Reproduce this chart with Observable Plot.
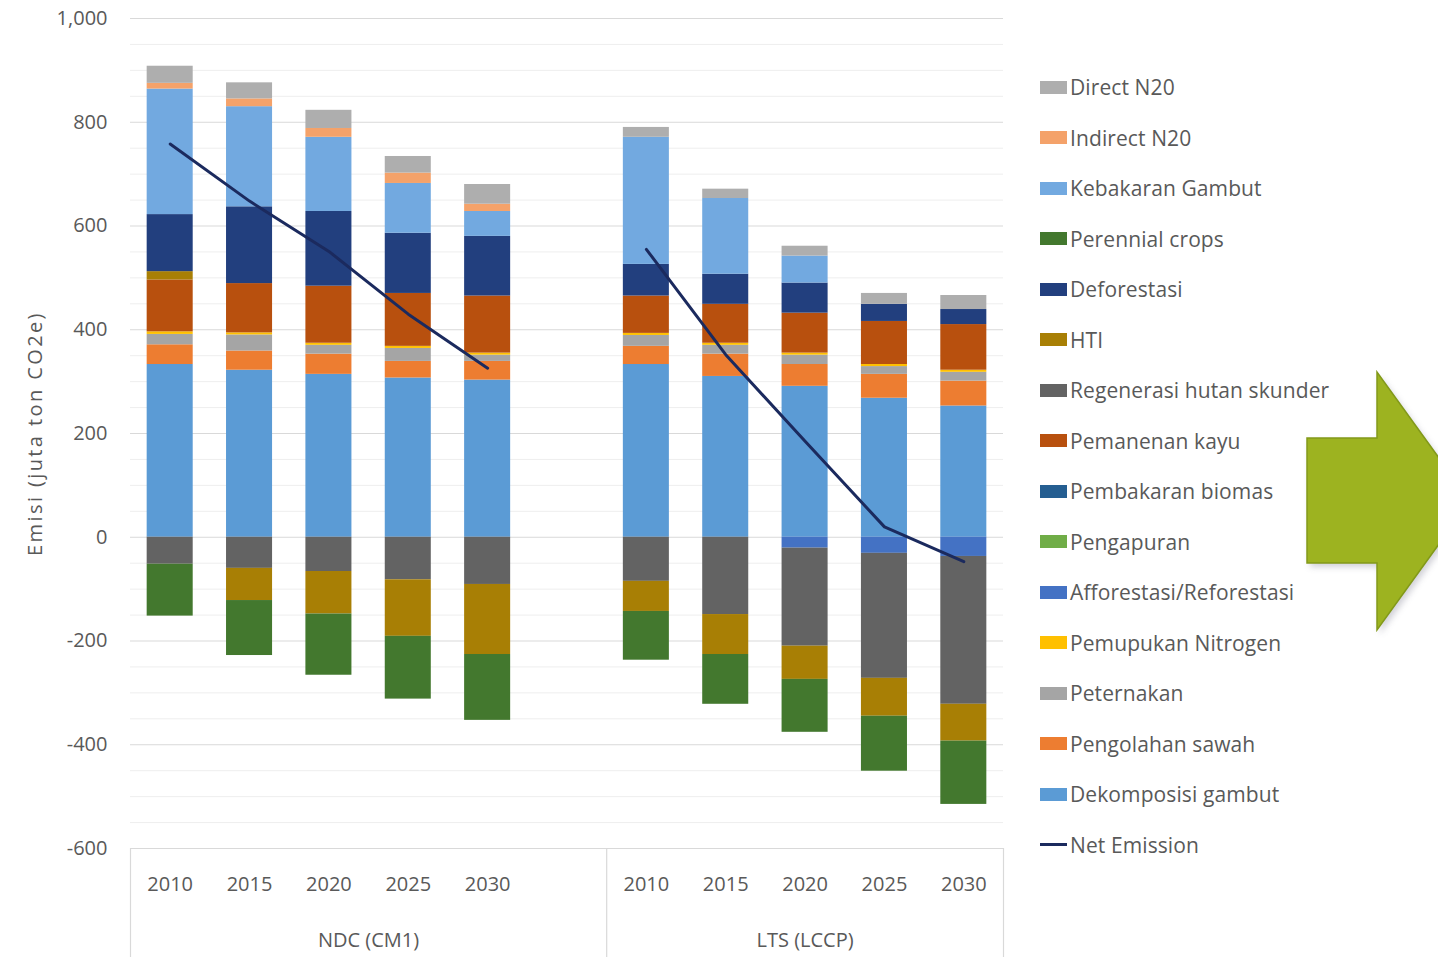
<!DOCTYPE html>
<html><head><meta charset="utf-8">
<script src="https://cdn.jsdelivr.net/npm/d3@7"></script>
<script src="https://cdn.jsdelivr.net/npm/@observablehq/plot@0.6"></script>
<style>
html,body{margin:0;padding:0;background:#fff;}
#wrap{position:relative;width:1438px;height:957px;overflow:hidden;font-family:"Open Sans",sans-serif;}
#chart{position:absolute;left:0;top:0;}
#legend{position:absolute;left:1040px;top:62px;}
.row{height:50.5px;display:flex;align-items:center;font-size:21px;color:#595959;white-space:nowrap;letter-spacing:0.1px;}
.sw{width:27px;height:13px;margin-right:3px;flex:none;}
.ln{width:27px;height:3px;margin-right:3px;flex:none;}
#arrow{position:absolute;left:1300px;top:365px;}
</style></head>
<body><div id="wrap"><div id="chart"></div><div id="legend"></div>
<svg id="arrow" width="180" height="280" viewBox="0 0 180 280">
<defs><filter id="sh" x="-20%" y="-20%" width="140%" height="140%"><feGaussianBlur stdDeviation="3"/></filter></defs>
<polygon points="7,73 77,73 77,7 170,136 77,265 77,198 7,198" transform="translate(3,4)" fill="#9a9aa8" opacity="0.45" filter="url(#sh)"/>
<polygon points="7,73 77,73 77,7 170,136 77,265 77,198 7,198" fill="#9db320" stroke="#82991a" stroke-width="1.5"/>
</svg>
</div>
<script>
// ---- categories ----
const scenarios = ["NDC (CM1)", "LTS (LCCP)"];
const years = ["2010", "2015", "2020", "2025", "2030"];
// ---- series (stack order, bottom to top) ----
const seriesNames = [
  "Dekomposisi gambut", "Pengolahan sawah", "Peternakan", "Pemupukan Nitrogen",
  "Afforestasi/Reforestasi", "Pengapuran", "Pembakaran biomas", "Pemanenan kayu",
  "Regenerasi hutan skunder", "HTI", "Deforestasi", "Perennial crops",
  "Kebakaran Gambut", "Indirect N20", "Direct N20"
];
const seriesColors = [
  "#5b9bd5", "#ed7d31", "#a5a5a5", "#ffc000",
  "#4472c4", "#70ad47", "#255e91", "#b8500e",
  "#636363", "#a87f05", "#223f7e", "#43782e",
  "#72a9e0", "#f4a26a", "#aeaeae"
];
// values: NDC 2010..2030, then LTS 2010..2030
const dekomposisiGambut   = [333, 322, 314, 307, 303, 333, 310, 291, 268, 253];
const pengolahanSawah     = [38, 37, 39, 32, 36, 35, 43, 42, 46, 48];
const peternakan          = [20, 31, 17, 25, 12, 21, 17, 18, 15, 17];
const pemupukanNitrogen   = [5, 4, 4, 4, 4, 4, 4, 4, 4, 4];
const afforestasi         = [0, 0, 0, 0, 0, 0, 0, -21, -31, -37];
const pengapuran          = [0, 0, 0, 0, 0, 0, 0, 0, 0, 0];
const pembakaranBiomas    = [0, 0, 0, 0, 0, 0, 0, 0, 0, 0];
const pemanenanKayu       = [100, 95, 110, 102, 110, 72, 75, 77, 83, 88];
const regenerasiHutan     = [-52, -60, -66, -82, -91, -85, -149, -189, -241, -285];
const hti                 = [16, -62, -82, -109, -135, -58, -77, -64, -73, -71];
const deforestasi         = [110, 148, 144, 116, 115, 61, 58, 58, 33, 29];
const perennialCrops      = [-100, -106, -118, -121, -127, -94, -96, -102, -106, -122];
const kebakaranGambut     = [242, 193, 143, 96, 48, 245, 146, 52, 0, 0];
const indirectN2O         = [11, 15, 17, 20, 14, 0, 0, 0, 0, 0];
const directN2O           = [33, 31, 35, 32, 38, 19, 18, 19, 21, 27];
const netEmission         = [758, 648, 551, 430, 326, 555, 352, 185, 20, -47];
// ---- axis ticks ----
const yMajorTicks = [-600, -400, -200, 0, 200, 400, 600, 800, 1000];
const yMinorTicks = [-550, -500, -450, -350, -300, -250, -150, -100, -50, 50, 100, 150, 250, 300, 350, 450, 500, 550, 650, 700, 750, 850, 900, 950];
const yTitle = "Emisi (juta ton CO2e)";
const legendLineName = "Net Emission";

const seriesValues = [dekomposisiGambut, pengolahanSawah, peternakan, pemupukanNitrogen,
  afforestasi, pengapuran, pembakaranBiomas, pemanenanKayu, regenerasiHutan, hti,
  deforestasi, perennialCrops, kebakaranGambut, indirectN2O, directN2O];

// category keys (with a blank category between the two scenarios)
const cats = [];
scenarios.forEach(s => years.forEach(y => cats.push({scenario: s, year: y, key: s + "|" + y})));
const keys = [...cats.slice(0, 5).map(c => c.key), "gap", ...cats.slice(5).map(c => c.key)];

const rows = [];
seriesNames.forEach((name, si) => {
  cats.forEach((c, i) => rows.push({key: c.key, series: name, value: seriesValues[si][i]}));
});
const netRows = cats.map((c, i) => ({key: c.key, scenario: c.scenario, value: netEmission[i]}));

const W = 1438, H = 957, mL = 130, mR = 435, mT = 18, mB = 109;
const step = (W - mL - mR) / keys.length;
const fmt = d => d.toLocaleString("en-US");

const chart = Plot.plot({
  width: W, height: H,
  marginLeft: mL, marginRight: mR, marginTop: mT, marginBottom: mB,
  style: {fontFamily: "Open Sans, sans-serif", fontSize: "20px", color: "#595959", background: "white"},
  x: {domain: keys, paddingInner: 0.42, paddingOuter: 0.21, align: 0.5, round: false, label: null},
  y: {domain: [-600, 1000], label: null},
  color: {domain: seriesNames, range: seriesColors},
  marks: [
    Plot.ruleY(yMinorTicks, {stroke: "#eeeeee", strokeWidth: 1}),
    Plot.ruleY(yMajorTicks, {stroke: "#d9d9d9", strokeWidth: 1.2}),
    Plot.barY(rows, {x: "key", y: "value", fill: "series"}),
    Plot.line(netRows, {x: "key", y: "value", z: "scenario", stroke: "#1b2a5e", strokeWidth: 3}),
    Plot.axisY({ticks: yMajorTicks, tickSize: 0, tickPadding: 23, tickFormat: fmt, fontSize: 20, label: null}),
    Plot.axisX({tickSize: 0, tickPadding: 28, fontSize: 20, label: null, tickFormat: k => k === "gap" ? "" : k.split("|")[1]}),
    Plot.ruleX([keys[0], keys[6]], {x: d => d, dx: -step / 2, stroke: "#d9d9d9", strokeWidth: 1.2, insetTop: H - mT - mB, insetBottom: -mB}),
    Plot.ruleX([keys[keys.length - 1]], {x: d => d, dx: step / 2, stroke: "#d9d9d9", strokeWidth: 1.2, insetTop: H - mT - mB, insetBottom: -mB}),
    Plot.text([scenarios[0]], {x: () => keys[2], dx: step / 2, text: d => d, frameAnchor: "bottom", lineAnchor: "middle", dy: 92, fontSize: 20, fill: "#595959"}),
    Plot.text([scenarios[1]], {x: () => keys[8], text: d => d, frameAnchor: "bottom", lineAnchor: "middle", dy: 92, fontSize: 20, fill: "#595959"}),
    Plot.text([yTitle], {frameAnchor: "left", textAnchor: "middle", lineAnchor: "middle", rotate: -90, dx: -95, text: d => d, fontSize: 20, fill: "#595959"})
  ]
});
document.getElementById("chart").appendChild(chart);
chart.querySelectorAll("text").forEach(t => {
  if (t.textContent === yTitle) t.style.letterSpacing = "2.4px";
});

// legend (top to bottom = reverse stack order)
const legend = document.getElementById("legend");
seriesNames.slice().reverse().forEach((name, i) => {
  const color = seriesColors[seriesNames.length - 1 - i];
  const r = document.createElement("div"); r.className = "row";
  r.innerHTML = `<span class="sw" style="background:${color}"></span><span>${name}</span>`;
  legend.appendChild(r);
});
const lr = document.createElement("div"); lr.className = "row";
lr.innerHTML = `<span class="ln" style="background:#1b2a5e"></span><span>${legendLineName}</span>`;
legend.appendChild(lr);
</script>
</body></html>
